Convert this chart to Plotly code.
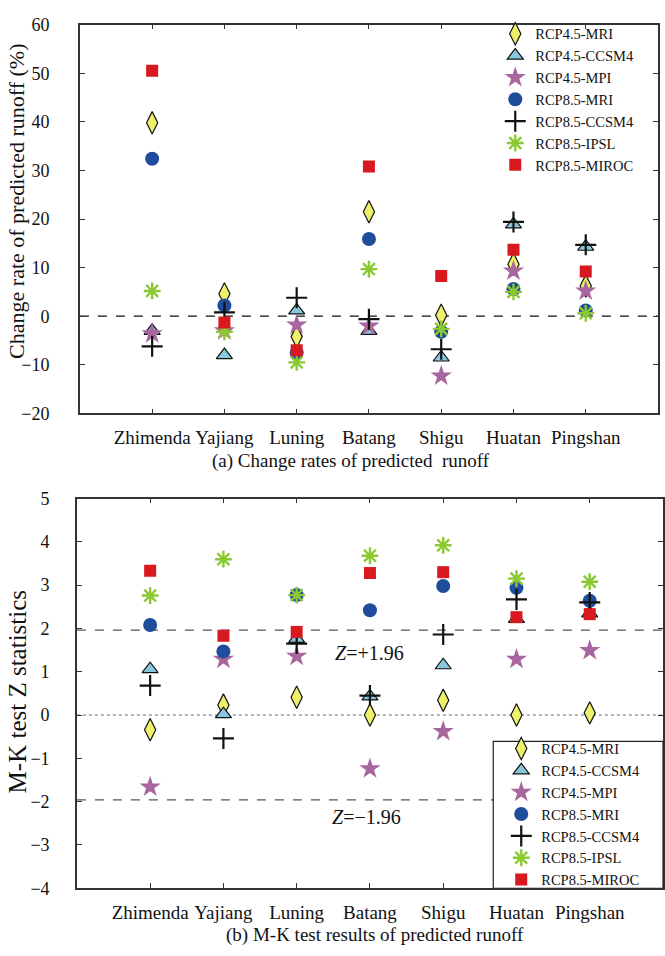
import plotly.graph_objects as go

stations = ["Zhimenda", "Yajiang", "Luning", "Batang", "Shigu", "Huatan", "Pingshan"]
series_names = ["RCP4.5-MRI", "RCP4.5-CCSM4", "RCP4.5-MPI", "RCP8.5-MRI",
                "RCP8.5-CCSM4", "RCP8.5-IPSL", "RCP8.5-MIROC"]

# (a) change rates of predicted runoff (%)
rcp45_mri_rate = [39.8, 4.6, -4.2, 21.5, 0.2, 10.7, 6.2]
rcp45_ccsm4_rate = [-3.0, -8.0, 1.2, -3.0, -8.5, 18.9, 14.3]
rcp45_mpi_rate = [-3.6, -3.0, -1.8, -2.0, -12.3, 9.3, 5.2]
rcp85_mri_rate = [32.4, 2.2, -7.5, 15.9, -3.2, 5.6, 1.2]
rcp85_ccsm4_rate = [-6.2, 0.8, 3.8, -0.6, -6.8, 19.4, 14.7]
rcp85_ipsl_rate = [5.2, -3.2, -9.5, 9.7, -2.6, 5.0, 0.6]
rcp85_miroc_rate = [50.5, -1.3, -7.0, 30.8, 8.3, 13.7, 9.2]

# (b) M-K test Z statistics
rcp45_mri_z = [-0.34, 0.23, 0.41, 0.0, 0.34, 0.0, 0.05]
rcp45_ccsm4_z = [1.06, 0.02, 1.76, 0.43, 1.15, 2.22, 2.35]
rcp45_mpi_z = [-1.66, 1.29, 1.36, -1.24, -0.38, 1.29, 1.49]
rcp85_mri_z = [2.08, 1.47, 2.77, 2.42, 2.98, 2.94, 2.64]
rcp85_ccsm4_z = [0.68, -0.54, 1.65, 0.45, 1.86, 2.67, 2.6]
rcp85_ipsl_z = [2.76, 3.6, 2.77, 3.68, 3.92, 3.15, 3.08]
rcp85_miroc_z = [3.33, 1.83, 1.92, 3.28, 3.30, 2.26, 2.33]

z_crit = 1.96

rates = [rcp45_mri_rate, rcp45_ccsm4_rate, rcp45_mpi_rate, rcp85_mri_rate,
         rcp85_ccsm4_rate, rcp85_ipsl_rate, rcp85_miroc_rate]
zs = [rcp45_mri_z, rcp45_ccsm4_z, rcp45_mpi_z, rcp85_mri_z,
      rcp85_ccsm4_z, rcp85_ipsl_z, rcp85_miroc_z]

styles = [
    dict(symbol="diamond-tall", size=16, color="#EEF06A", line=dict(color="#111111", width=1.2)),
    dict(symbol="triangle-up", size=14, color="#88C8DC", line=dict(color="#111111", width=1.2)),
    dict(symbol="star", size=16, color="#A8669F", line=dict(width=0)),
    dict(symbol="circle", size=14, color="#1F4C9B", line=dict(width=0)),
    dict(symbol="cross-thin-open", size=15, color="#111111", line=dict(color="#111111", width=2.2)),
    dict(symbol="asterisk-open", size=14, color="#8CC832", line=dict(color="#8CC832", width=2.4)),
    dict(symbol="square", size=12, color="#D8191F", line=dict(width=0)),
]

xpos = list(range(1, len(stations) + 1))
W, H = 665, 956
FONT = "Liberation Serif, Times New Roman, serif"

fig = go.Figure()
for name, vals, st in zip(series_names, rates, styles):
    fig.add_trace(go.Scatter(x=xpos, y=vals, mode="markers", name=name, marker=st,
                             xaxis="x", yaxis="y", legend="legend"))
for name, vals, st in zip(series_names, zs, styles):
    fig.add_trace(go.Scatter(x=xpos, y=vals, mode="markers", name=name, marker=st,
                             xaxis="x2", yaxis="y2", legend="legend2"))

def px_x(a, b):
    return [a / W, b / W]

def px_y(top, bottom):
    return [(H - bottom) / H, (H - top) / H]

def f(size):
    return dict(family=FONT, size=size, color="#111111")

axis_common = dict(showline=True, linecolor="#333333", linewidth=1.5, mirror="ticks",
                   ticks="inside", ticklen=5, tickcolor="#333333", showgrid=False,
                   zeroline=False)

fig.update_layout(
    width=W, height=H, margin=dict(l=0, r=0, t=0, b=0),
    paper_bgcolor="white", plot_bgcolor="white",
    font=f(18),
    xaxis=dict(domain=px_x(80, 659), range=[0, 8], tickvals=xpos, ticktext=stations,
               tickfont=f(19), tickangle=0, ticklabelstandoff=6, anchor="y", **axis_common),
    yaxis=dict(domain=px_y(15, 412), range=[-20, 60], dtick=10, anchor="x",
               tickfont=f(18), ticklabelstandoff=25, **axis_common),
    xaxis2=dict(domain=px_x(77, 664), range=[0, 8], tickvals=xpos, ticktext=stations,
                tickfont=f(19), tickangle=0, ticklabelstandoff=6, anchor="y2", **axis_common),
    yaxis2=dict(domain=px_y(499, 897), range=[-4, 5], dtick=1, anchor="x2",
                tickfont=f(18), ticklabelstandoff=22, **axis_common),
    legend=dict(x=496 / W, y=(H - 8) / H, xanchor="left", yanchor="top",
                bgcolor="rgba(0,0,0,0)", borderwidth=0, font=f(14.5),
                tracegroupgap=0, itemsizing="trace"),
    legend2=dict(x=502 / W, y=(H - 738) / H, xanchor="left", yanchor="top",
                 bgcolor="rgba(0,0,0,0)", borderwidth=0, font=f(14.5),
                 tracegroupgap=0, itemsizing="trace"),
    shapes=[
        dict(type="line", xref="x domain", yref="y", x0=0, x1=1, y0=0, y1=0,
             line=dict(color="#111111", width=1.3, dash="dash"), layer="below"),
        dict(type="line", xref="x2 domain", yref="y2", x0=0, x1=1, y0=z_crit, y1=z_crit,
             line=dict(color="#555555", width=1.3, dash="dash"), layer="below"),
        dict(type="line", xref="x2 domain", yref="y2", x0=0, x1=1, y0=-z_crit, y1=-z_crit,
             line=dict(color="#555555", width=1.3, dash="dash"), layer="below"),
        dict(type="line", xref="x2 domain", yref="y2", x0=0, x1=1, y0=0, y1=0,
             line=dict(color="#666666", width=1, dash="dot"), layer="below"),
        # legend frame of panel (b)
        dict(type="rect", xref="paper", yref="paper",
             x0=494 / W, x1=664 / W, y0=(H - 897) / H, y1=(H - 747) / H,
             fillcolor="white", line=dict(color="#222222", width=1.2), layer="above"),
    ],
    annotations=[
        dict(text="Change rate of predicted runoff (%)", xref="paper", yref="paper",
             x=17 / W, y=(H - 195) / H, textangle=-90, showarrow=False, font=f(22),
             xanchor="center", yanchor="middle"),
        dict(text="M-K test Z statistics", xref="paper", yref="paper",
             x=17 / W, y=(H - 696) / H, textangle=-90, showarrow=False, font=f(25),
             xanchor="center", yanchor="middle"),
        dict(text="(a) Change rates of predicted  runoff", xref="paper", yref="paper",
             x=352 / W, y=(H - 461) / H, showarrow=False, font=f(19),
             xanchor="center", yanchor="middle"),
        dict(text="(b) M-K test results of predicted runoff", xref="paper", yref="paper",
             x=376 / W, y=-2 / H, showarrow=False, font=f(19),
             xanchor="center", yanchor="bottom"),
        dict(text="<i>Z</i>=+1.96", xref="paper", yref="paper",
             x=334 / W, y=(H - 657) / H, showarrow=False, font=f(20),
             xanchor="left", yanchor="middle"),
        dict(text="<i>Z</i>=\u22121.96", xref="paper", yref="paper",
             x=330 / W, y=(H - 824) / H, showarrow=False, font=f(20),
             xanchor="left", yanchor="middle"),
    ],
)

fig.write_html("out.html", post_script="document.body.style.margin='0';",
               config={"displayModeBar": False})
